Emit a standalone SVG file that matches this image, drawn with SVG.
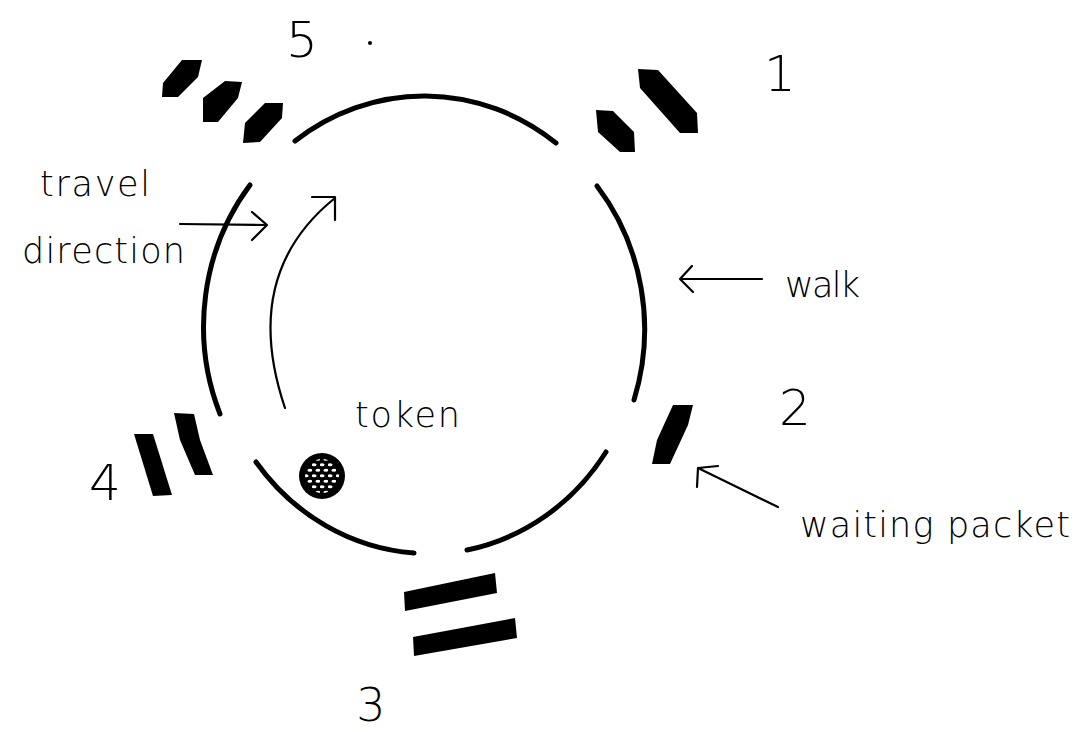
<svg xmlns="http://www.w3.org/2000/svg" width="1084" height="732" viewBox="0 0 1084 732">
<style>
.ring{fill:none;stroke:#000;stroke-width:5;stroke-linecap:round}
.pk{fill:#000}
.ln{fill:none;stroke:#000;stroke-width:2.2;stroke-linecap:round;stroke-linejoin:round}
.t{font-family:"DejaVu Sans","Liberation Sans",sans-serif;font-weight:200;fill:#000}
.num{font-size:50px;text-anchor:middle}
.lab{font-size:35px}
</style>
<defs>
<pattern id="dots" width="8" height="11" patternUnits="userSpaceOnUse">
<ellipse cx="2" cy="2.75" rx="2.6" ry="1.5" fill="#fff"/>
<ellipse cx="6" cy="8.25" rx="2.6" ry="1.5" fill="#fff"/>
</pattern>
</defs>
<rect width="1084" height="732" fill="#fff"/>
<g id="ring">
<path class="ring" d="M295,141 A217,229 0 0 1 556,143"/>
<path class="ring" d="M597,186 A217,229 0 0 1 634,400"/>
<path class="ring" d="M606,452 A217,229 0 0 1 467,550"/>
<path class="ring" d="M414,553 A217,229 0 0 1 256,462"/>
<path class="ring" d="M220,414 A217,229 0 0 1 250,185"/>
</g>
<g id="station-5">
<polygon class="pk" points="182,60 202,60 198,77 178,97 162,97 163,83"/>
<polygon class="pk" points="225,81 242,82 238,98 218,122 203,122 203,98"/>
<polygon class="pk" points="265,103 283,103 282,118 260,142 243,143 245,123"/>
<text class="t num" x="302" y="57">5</text>
</g>
<g id="station-1">
<polygon class="pk" points="638,69 658,70 697,113 698,133 680,133 640,88"/>
<polygon class="pk" points="596,110 613,111 634,132 635,152 620,152 598,132"/>
<text class="t num" x="780" y="91">1</text>
</g>
<g id="station-2">
<polygon class="pk" points="673,405 693,405 688,425 670,464 652,464 657,440"/>
<text class="t num" x="795" y="425">2</text>
</g>
<g id="station-3">
<polygon class="pk" points="404,592 495,573 497,593 405,611"/>
<polygon class="pk" points="413,637 515,618 517,638 414,656"/>
<text class="t num" x="371" y="721" style="font-size:46px">3</text>
</g>
<g id="station-4">
<polygon class="pk" points="134,434 153,434 172,495 153,496"/>
<polygon class="pk" points="174,413 194,414 200,440 213,475 195,475 180,440"/>
<text class="t num" x="105" y="500">4</text>
</g>
<g id="token">
<circle cx="322" cy="476" r="23" fill="#000"/>
<circle cx="322" cy="476" r="17" fill="url(#dots)"/>
<text class="t lab" x="355" y="427" textLength="105" lengthAdjust="spacing">token</text>
</g>
<g id="labels">
<text class="t lab" x="40" y="196" textLength="110" lengthAdjust="spacing">travel</text>
<text class="t lab" x="22" y="263" textLength="163" lengthAdjust="spacing">direction</text>
<text class="t lab" x="785" y="297" textLength="75" lengthAdjust="spacing">walk</text>
<text class="t lab" x="800" y="537" textLength="270" lengthAdjust="spacing">waiting packet</text>
<circle cx="370" cy="43" r="2" fill="#000"/>
</g>
<g id="connectors">
<path class="ln" d="M180,224 L267,225 M252,212 L267,225 L252,240"/>
<path class="ln" d="M762,279 L680,279 M692,266 L680,279 L693,292"/>
<path class="ln" d="M778,507 L698,468 M718,466 L698,468 L697,487"/>
<path class="ln" d="M285,408 C262,340 258,260 335,198 M312,197 L335,197 L335,220"/>
</g>
</svg>
